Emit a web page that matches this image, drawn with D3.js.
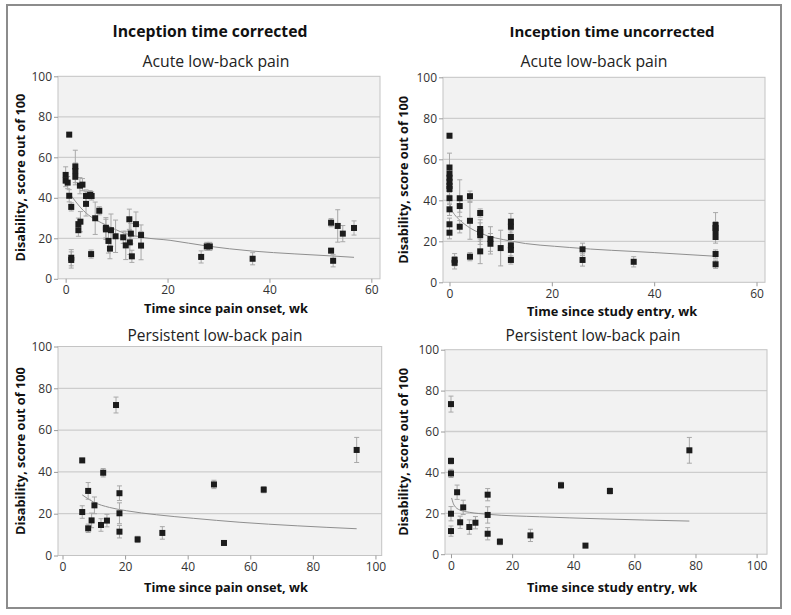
<!DOCTYPE html>
<html><head><meta charset="utf-8">
<script src="https://cdn.jsdelivr.net/npm/d3@7"></script>
<style>
html,body{margin:0;padding:0;background:#fff;}
svg{display:block;font-family:"Open Sans","Noto Sans",sans-serif;}
</style></head>
<body><svg id="c" width="791" height="615"></svg>
<script>
// ---------- DATA ----------
const columnTitles = ["Inception time corrected", "Inception time uncorrected"];
const panelTitles = ["Acute low-back pain", "Persistent low-back pain"];
const xLabels = ["Time since pain onset, wk", "Time since study entry, wk"];
const yLabel = "Disability, score out of 100";
const yTicks = [0, 20, 40, 60, 80, 100];
const xTicksAcute = [0, 20, 40, 60];
const xTicksPersistent = [0, 20, 40, 60, 80, 100];

// Acute, inception time corrected
const acuteCorrX = [0.7,0,0,0.4,0.7,1.1,1.9,1.9,1.9,2.8,3.3,4,4,4.8,5.1,2.5,2.5,2.9,1.1,1.1,5,5.8,6.6,7.9,7.9,8.9,8.4,8.7,9.8,11.3,11.8,12.5,12.6,12.8,13,13.8,14.8,14.8,26.6,27.7,28.3,36.7,52.1,53.4,54.4,56.6,52.1,52.5];
const acuteCorrY = [71.2,51.3,48.5,47.5,41,35.5,55.5,53.2,50.4,46,46.5,40.9,37,41.5,40.9,27,24,28.2,10.4,9.3,12.2,29.9,33.6,25.2,24.4,24,18.7,14.9,21,20.5,16.5,29.4,18,22.3,11.1,27,21.6,16.4,10.8,16,16,9.9,27.7,26.1,22.3,25.1,13.9,8.9];
const acuteCorrErr = [1,4,3,3,3,2,8,4,4,4,3,3,6,2,2,3,3,5,4,4,2,8,2,5,5,8,6,5,8,3,7,5,6,5,3,6,5,7,3,2,2,3,2,8,4,3.5,1,3];
const acuteCorrTrendX = [1.1,2,3,4,6,8,11,15,20.5,27.7,36.6,45,52.1,56.6];
const acuteCorrTrendY = [41,38,35,32.5,29,26.5,23,20.5,19,16.2,13.7,12.3,11.3,10.6];

// Acute, inception time uncorrected
const acuteUncX = [0,0,0,0,0,0,0,0,0,0,0,1,1,2,2,2,4,4,4,6,6,6,6,6,8,8,10,12,12,12,12,12,12,26,26,36,52,52,52,52,52,52];
const acuteUncY = [71.5,56,53,51,49,47,45.5,41,35.6,28.3,24.2,11,9.5,41,37.2,27.1,42,30,12.5,33.8,26,24.5,23,15.1,21.1,18.8,16.7,29.6,27.1,22.1,18,15.8,10.9,16.1,10.9,10,28,26.5,25,22.1,13.8,8.8];
const acuteUncErr = [1,7,3,3,3,3,3,3,3,3,3,3,3,9,3,3,2.5,9,2,2,3,6,3,6,6,5,8.7,4,3,3,3,4,2,3,3,2.5,6,3,3,3,2,2];
const acuteUncTrendX = [0.1,0.5,1,2,4,6,12,23.4,40,52];
const acuteUncTrendY = [38,35,33,30.4,26.5,24,20.1,17,14.5,12.7];

// Persistent, inception time corrected
const persCorrX = [17.1,6.3,13,48.4,8.2,18.2,10.2,6.3,18.2,9.3,14.2,12.3,8.2,18.2,24,31.9,51.6,64.3,94];
const persCorrY = [72,45.5,39.6,34,30.9,29.8,24,20.8,20.2,16.8,16.7,14.6,13,11.4,7.7,10.8,6,31.5,50.5];
const persCorrErr = [3.8,1,2,2,4,3.5,4,3,5,3.5,3,3,2,3,1.5,3,1,1.5,6];
const persCorrTrendX = [6.3,10,15,20.5,30,41.8,56.7,75,94];
const persCorrTrendY = [29,25.5,23,21.4,19.5,17.8,15.9,14.2,12.8];

// Persistent, inception time uncorrected
const persUncX = [0,0,0,2,0,4,0,3,6,8,12,12,12,16,26,36,44,52,78];
const persUncY = [73.4,45.6,39.5,30.3,19.8,22.9,11.3,15.6,13.3,15.4,29.1,19.2,10,6.1,9.2,33.7,4.2,30.9,50.8];
const persUncErr = [3.9,1.5,2,3.5,3.5,3.5,2.5,3,3.5,3,3,4,3,1.5,3,1.5,1,1.5,6.3];
const persUncTrendX = [0.2,1,2.9,6,12.2,29,48.8,78];
const persUncTrendY = [27.5,24,21.6,20.5,19.5,18.3,17.3,16.2];

// ---------- LAYOUT ----------
const svg = d3.select("#c");
svg.append("rect").attr("x",7).attr("y",5).attr("width",774).attr("height",603)
  .attr("fill","#fff").attr("stroke","#8c8c8c").attr("stroke-width",2);

function fitText(sel, target){
  const base = parseFloat(sel.attr("font-size"));
  const L = sel.node().getComputedTextLength();
  if (L>0) sel.attr("font-size", (base*target/L).toFixed(2));
  return sel;
}

const panels = [
  {box:[58,76.3,380,278.8], xd:[-1.5,61.7], xt:xTicksAcute, X:acuteCorrX, Y:acuteCorrY, E:acuteCorrErr, TX:acuteCorrTrendX, TY:acuteCorrTrendY,
   title:panelTitles[0], tx:216, ty:67, tw:147, xl:xLabels[0], xlx:226, xly:313, ylx:22},
  {box:[443,77.3,765,282.3], xd:[-1.27,61.66], xt:xTicksAcute, X:acuteUncX, Y:acuteUncY, E:acuteUncErr, TX:acuteUncTrendX, TY:acuteUncTrendY,
   title:panelTitles[0], tx:594, ty:67, tw:147, xl:xLabels[1], xlx:612, xly:316, ylx:405},
  {box:[58,346.5,381.7,555.5], xd:[-1.44,102], xt:xTicksPersistent, X:persCorrX, Y:persCorrY, E:persCorrErr, TX:persCorrTrendX, TY:persCorrTrendY,
   title:panelTitles[1], tx:215, ty:341, tw:175, xl:xLabels[0], xlx:226, xly:592, ylx:22},
  {box:[445,349.7,767,554.2], xd:[-1.96,103.4], xt:xTicksPersistent, X:persUncX, Y:persUncY, E:persUncErr, TX:persUncTrendX, TY:persUncTrendY,
   title:panelTitles[1], tx:593, ty:341, tw:175, xl:xLabels[1], xlx:612, xly:592, ylx:405}
];

// column titles
fitText(svg.append("text").attr("x",210).attr("y",37).attr("text-anchor","middle")
  .attr("font-size",15).attr("font-weight","bold").attr("fill","#111").text(columnTitles[0]),195);
fitText(svg.append("text").attr("x",612).attr("y",37).attr("text-anchor","middle")
  .attr("font-size",15).attr("font-weight","bold").attr("fill","#111").text(columnTitles[1]),205);

let boldSize = null;

panels.forEach((p,i)=>{
  const [x0,y0,x1,y1] = p.box;
  const x = d3.scaleLinear().domain(p.xd).range([x0,x1]);
  const y = d3.scaleLinear().domain([0,100]).range([y1,y0]);
  const g = svg.append("g");

  g.append("rect").attr("x",x0).attr("y",y0).attr("width",x1-x0).attr("height",y1-y0)
    .attr("fill","#f2f2f2");
  g.selectAll("line.grid").data([20,40,60,80]).join("line")
    .attr("x1",x0).attr("x2",x1).attr("y1",d=>y(d)).attr("y2",d=>y(d))
    .attr("stroke","#cdcdcd").attr("stroke-width",1.3);
  g.append("rect").attr("x",x0).attr("y",y0).attr("width",x1-x0).attr("height",y1-y0)
    .attr("fill","none").attr("stroke","#c4c4c4").attr("stroke-width",1);

  // axes
  const ya = d3.axisLeft(y).tickValues(yTicks).tickSize(4).tickPadding(2);
  const yg = g.append("g").attr("transform",`translate(${x0},0)`).call(ya);
  const xa = d3.axisBottom(x).tickValues(p.xt).tickSize(4).tickPadding(3);
  const xg = g.append("g").attr("transform",`translate(0,${y1})`).call(xa);
  [yg,xg].forEach(a=>{
    a.select(".domain").remove();
    a.selectAll(".tick line").attr("stroke","#9a9a9a");
    a.selectAll(".tick text").attr("fill","#333").attr("font-size",12)
      .attr("font-family",'"Open Sans","Noto Sans",sans-serif');
  });

  // panel title
  fitText(g.append("text").attr("x",p.tx).attr("y",p.ty).attr("text-anchor","middle")
    .attr("font-size",15).attr("fill","#222").text(p.title), p.tw);

  // x label
  const xlab = g.append("text").attr("x",p.xlx).attr("y",p.xly).attr("text-anchor","middle")
    .attr("font-size",12).attr("font-weight","bold").attr("fill","#111").text(p.xl);
  if (boldSize===null){ fitText(xlab,164); boldSize = parseFloat(xlab.attr("font-size")); }
  else xlab.attr("font-size",boldSize);

  // y label
  g.append("text").attr("transform",`translate(${p.ylx},${(y0+y1)/2}) rotate(-90)`)
    .attr("text-anchor","middle").attr("dominant-baseline","middle")
    .attr("font-size",boldSize).attr("font-weight","bold").attr("fill","#111").text(yLabel);

  // trend line
  const tr = p.TX.map((v,k)=>[v,p.TY[k]]);
  g.append("path").datum(tr)
    .attr("d", d3.line().x(d=>x(d[0])).y(d=>y(d[1])).curve(d3.curveMonotoneX))
    .attr("fill","none").attr("stroke","#8f8f8f").attr("stroke-width",1);

  // points
  const pts = p.X.map((v,k)=>({x:v,y:p.Y[k],e:p.E[k]}));
  const eb = g.append("g").attr("stroke","#a8a8a8").attr("stroke-width",1);
  eb.selectAll("line.v").data(pts).join("line")
    .attr("x1",d=>x(d.x)).attr("x2",d=>x(d.x)).attr("y1",d=>y(d.y-d.e)).attr("y2",d=>y(d.y+d.e));
  eb.selectAll("line.t").data(pts).join("line")
    .attr("x1",d=>x(d.x)-2.5).attr("x2",d=>x(d.x)+2.5).attr("y1",d=>y(d.y+d.e)).attr("y2",d=>y(d.y+d.e));
  eb.selectAll("line.b").data(pts).join("line")
    .attr("x1",d=>x(d.x)-2.5).attr("x2",d=>x(d.x)+2.5).attr("y1",d=>y(d.y-d.e)).attr("y2",d=>y(d.y-d.e));
  g.selectAll("rect.pt").data(pts).join("rect")
    .attr("x",d=>x(d.x)-3).attr("y",d=>y(d.y)-3).attr("width",6).attr("height",6)
    .attr("fill","#1c1c1c");
});
</script></body></html>
